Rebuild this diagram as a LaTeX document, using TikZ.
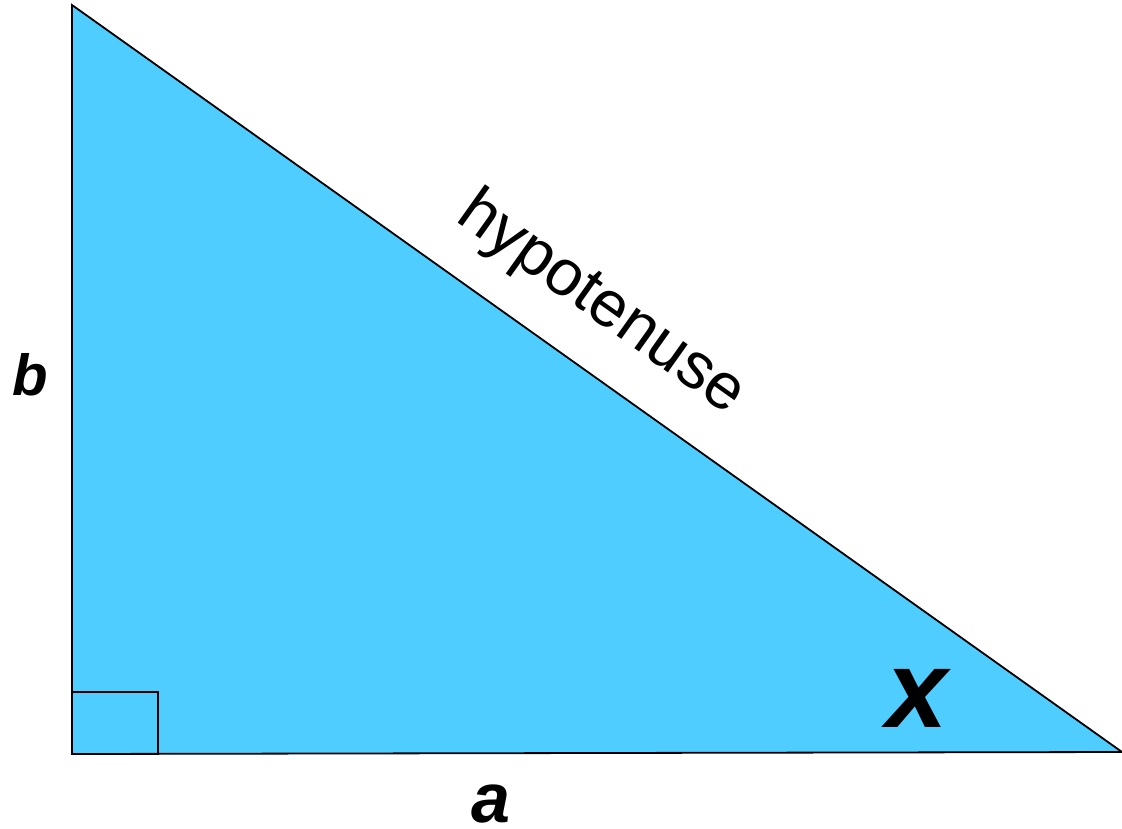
\documentclass[tikz,border=0pt]{standalone}
\usepackage{fontspec}
\setmainfont{Liberation Sans}
\usetikzlibrary{calc}
\definecolor{sky}{HTML}{50CDFF}
\tikzset{
  tri/.style={draw=black,line width=1.8pt,fill=sky},
  lbl/.style={inner sep=0pt,font=\bfseries\itshape},
}

\begin{document}
\begin{tikzpicture}[x=1pt,y=-1pt]
\useasboundingbox (0,0) rectangle (1122,828);
\coordinate (top) at (72,5);
\coordinate (corner) at (72,754);
\coordinate (tip) at (1122,752);
\filldraw[tri] (top) -- (corner) -- (tip) -- cycle;
\draw[tri,fill=none] (corner) rectangle (158,692);
\node[lbl,anchor=base] (b) at (30,395) {\fontsize{58}{60}\selectfont b};
\node[lbl,anchor=base] (a) at (491,822) {\fontsize{70}{72}\selectfont a};
\node[lbl,anchor=base] (x) at (917,727) {\fontsize{110}{112}\selectfont x};
\node[inner sep=0pt,rotate=-35.4] (hyp) at (601,304) {\fontsize{65}{67}\selectfont hypotenuse};
\end{tikzpicture}
\end{document}
